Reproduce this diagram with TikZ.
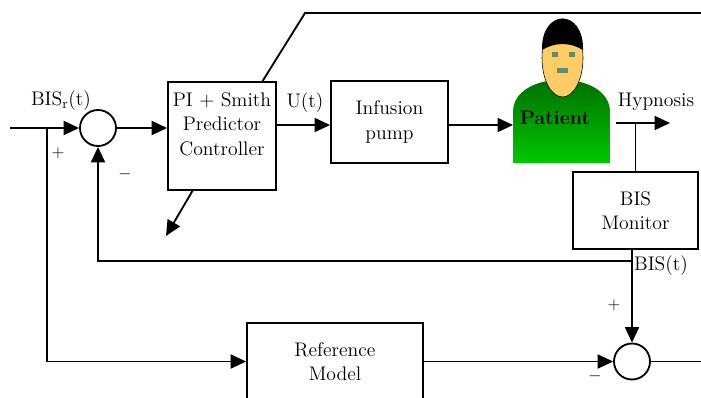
\documentclass[tikz,border=0pt]{standalone}
\usetikzlibrary{arrows.meta}
\definecolor{skin}{RGB}{255,204,102}
\definecolor{eyecol}{RGB}{96,140,110}
\definecolor{bodytop}{RGB}{0,100,0}
\definecolor{bodybot}{RGB}{0,200,0}
\begin{document}
\begin{tikzpicture}[x=0.025cm,y=-0.025cm,line width=1.3pt,
    font=\fontsize{14}{17.5}\selectfont,
    >={Triangle[length=11pt,width=10pt]},
    blk/.style={draw,rectangle,align=center,inner sep=0pt},
    sumc/.style={draw,circle,minimum size=0.9cm,inner sep=0pt},
    sgn/.style={font=\fontsize{12}{14}\selectfont}]
    \useasboundingbox (0,0) rectangle (701,397);

    % ブロックを配置
    \node[blk,minimum width=2.7cm,minimum height=2.7cm] (ctrl) at (222,136) {};
    \node[align=center] (ctrltxt) at (222,124) {PI + Smith\\Predictor\\Controller};
    \node[blk,minimum width=2.925cm,minimum height=2.05cm] (pump) at (389.5,122) {Infusion\\pump};
    \node[blk,minimum width=3.125cm,minimum height=1.925cm] (mon) at (635.5,210.5) {BIS\\Monitor};
    \node[blk,minimum width=4.4cm,minimum height=1.925cm] (ref) at (335,361.5) {Reference\\Model};

    % 加え合わせ点
    \node[sumc] (sum1) at (98,128) {};
    \node[sumc] (sum2) at (632,361.5) {};

    % 患者を描画
    \shade[top color=bodytop,bottom color=bodybot,line width=0pt]
        (513,163) -- (513,112) .. controls (513,69) and (610,69) .. (610,112) -- (610,163) -- cycle;
    \filldraw[fill=skin,draw=black,line width=0.4pt] (562.5,58) ellipse[x radius=20.5,y radius=39];
    \fill (542,50) .. controls (541,8) and (584,8) .. (583,50)
        .. controls (570,42) and (555,42) .. (542,50) -- cycle;
    \foreach \x in {552,569}
        \fill[eyecol] (\x,52) rectangle ++(6,5);
    \fill[eyecol] (557,68) rectangle (568,73);
    \node[font=\fontsize{14}{17.5}\selectfont\bfseries] (pat) at (555,118) {Patient};

    % 座標
    \coordinate (in) at (10,128);
    \coordinate (br) at (47,128);
    \coordinate (uy) at (0,125);
    \coordinate (patin) at (513,125);
    \coordinate (patout) at (616,123);
    \coordinate (hyp) at (670,123);
    \coordinate (fb) at (632,261);
    \coordinate (outr) at (701,361.5);
    \coordinate (up1) at (262,82);
    \coordinate (up2) at (305,13);
    \coordinate (up3) at (701,13);
    \coordinate (dn1) at (193,190);
    \coordinate (dn2) at (166,236);

    % 信号線を描画
    \draw[->] (in) -- (sum1);
    \draw[->] (sum1.east) -- (sum1.east -| ctrl.west);
    \draw[->] (ctrl.east |- uy) -- (pump.west |- uy);
    \draw[->] (pump.east |- uy) -- (patin);
    \draw[->] (patout) -- (hyp);
    \draw (mon.north |- patout) -- (mon.north);
    \draw (mon.south -| fb) -- (fb);
    \draw[->] (fb) -| (sum1);
    \draw[->] (fb) -- (sum2);
    \draw[->] (br) |- (ref);
    \draw[->] (ref) -- (sum2);
    \draw (sum2.east) -- (outr);
    \draw (up1) -- (up2) -- (up3);
    \draw[->] (dn1) -- (dn2);

    % ラベル
    \node (bisr) at (61,101) {BIS\textsubscript{r}(t)};
    \node[sgn] (pl1) at (58,153) {$+$};
    \node[sgn] (mi1) at (125,174) {$-$};
    \node (ut) at (305,103) {U(t)};
    \node (hyplbl) at (656,102) {Hypnosis};
    \node (bist) at (661,266) {BIS(t)};
    \node[sgn] (pl2) at (614,305) {$+$};
    \node[sgn] (mi2) at (595,376) {$-$};
\end{tikzpicture}
\end{document}
